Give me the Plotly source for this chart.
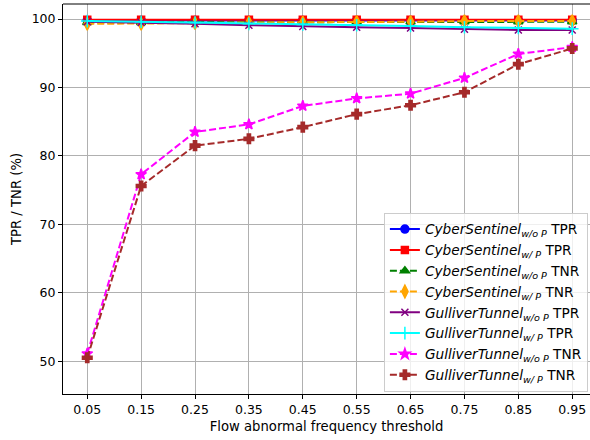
import plotly.graph_objects as go

thresholds = [0.05, 0.15, 0.25, 0.35, 0.45, 0.55, 0.65, 0.75, 0.85, 0.95]
tick_labels = ["0.05", "0.15", "0.25", "0.35", "0.45", "0.55", "0.65", "0.75", "0.85", "0.95"]

cs_wo_tpr = [99.8, 99.8, 99.8, 99.8, 99.8, 99.8, 99.8, 99.8, 99.8, 99.8]
cs_w_tpr = [99.9, 99.9, 99.9, 99.9, 99.9, 99.9, 99.9, 99.9, 99.9, 99.9]
cs_wo_tnr = [99.5, 99.5, 99.6, 99.6, 99.6, 99.6, 99.6, 99.6, 99.6, 99.6]
cs_w_tnr = [99.3, 99.3, 99.4, 99.5, 99.5, 99.6, 99.6, 99.7, 99.7, 99.7]
gt_wo_tpr = [99.6, 99.5, 99.3, 99.1, 98.9, 98.8, 98.7, 98.5, 98.4, 98.4]
gt_w_tpr = [99.7, 99.6, 99.5, 99.3, 99.2, 99.1, 99.0, 98.8, 98.7, 98.6]
gt_wo_tnr = [51.1, 77.3, 83.5, 84.6, 87.3, 88.4, 89.1, 91.4, 94.9, 95.9]
gt_w_tnr = [50.5, 75.6, 81.5, 82.5, 84.2, 86.1, 87.4, 89.3, 93.4, 95.7]

series = [
    ("<i>CyberSentinel</i><sub><i>w/o P</i></sub> TPR", cs_wo_tpr, "blue", "solid", "circle", 8),
    ("<i>CyberSentinel</i><sub><i>w/ P</i></sub> TPR", cs_w_tpr, "red", "solid", "square", 7),
    ("<i>CyberSentinel</i><sub><i>w/o P</i></sub> TNR", cs_wo_tnr, "green", "7px,3px", "triangle-up", 8),
    ("<i>CyberSentinel</i><sub><i>w/ P</i></sub> TNR", cs_w_tnr, "orange", "7px,3px", "diamond-tall", 9),
    ("<i>GulliverTunnel</i><sub><i>w/o P</i></sub> TPR", gt_wo_tpr, "purple", "solid", "x-thin-open", 7),
    ("<i>GulliverTunnel</i><sub><i>w/ P</i></sub> TPR", gt_w_tpr, "cyan", "solid", "cross-thin-open", 9),
    ("<i>GulliverTunnel</i><sub><i>w/o P</i></sub> TNR", gt_wo_tnr, "magenta", "7px,3px", "star", 8),
    ("<i>GulliverTunnel</i><sub><i>w/ P</i></sub> TNR", gt_w_tnr, "brown", "7px,3px", "cross", 8),
]

fig = go.Figure()
for name, vals, color, dash, sym, size in series:
    fig.add_trace(go.Scatter(
        x=thresholds, y=vals, name=name, mode="lines+markers",
        line=dict(color=color, width=2, dash=dash),
        marker=dict(symbol=sym, size=size, color=color,
                    line=dict(color=color, width=1.5)),
    ))

fig.update_layout(
    width=590, height=440,
    margin=dict(l=63, r=0, t=4, b=46),
    paper_bgcolor="white", plot_bgcolor="white",
    font=dict(family="DejaVu Sans", size=12.5, color="black"),
    showlegend=True,
    legend=dict(
        x=0.996, y=0.006, xanchor="right", yanchor="bottom",
        bgcolor="rgba(255,255,255,0.8)", bordercolor="#cccccc", borderwidth=1,
        font=dict(family="DejaVu Sans", size=13.7),
    ),
    xaxis=dict(
        range=[0.005, 0.983], tickvals=thresholds, ticktext=tick_labels,
        showgrid=True, gridcolor="#b0b0b0", gridwidth=1,
        showline=True, linecolor="black", linewidth=1, mirror=False,
        ticks="outside", ticklen=4, tickcolor="black",
        title=dict(text="Flow abnormal frequency threshold", standoff=5,
                   font=dict(size=13.2)),
        zeroline=False,
    ),
    yaxis=dict(
        range=[45.2, 102.2], tickvals=[50, 60, 70, 80, 90, 100],
        showgrid=True, gridcolor="#b0b0b0", gridwidth=1,
        showline=True, linecolor="black", linewidth=1, mirror=False,
        ticks="outside", ticklen=4, tickcolor="black",
        title=dict(text="TPR / TNR (%)", standoff=7, font=dict(size=13.2)),
        zeroline=False,
    ),
)
fig.add_shape(type="line", xref="paper", yref="paper", x0=0, x1=1, y0=1, y1=1,
              line=dict(color="black", width=1))

fig.write_html("out.html", config={"displayModeBar": False},
               post_script="document.body.style.margin='0';document.body.style.overflow='hidden';")
